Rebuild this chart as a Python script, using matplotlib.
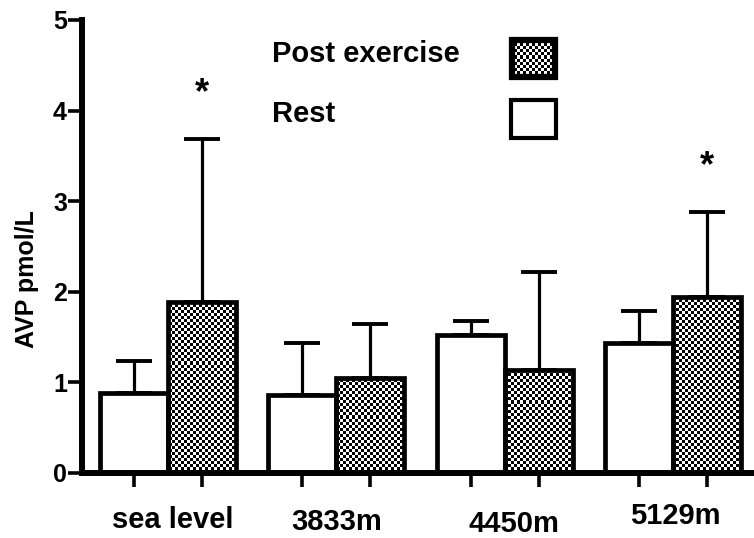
import numpy as np
import matplotlib
matplotlib.use("Agg")
import matplotlib.pyplot as plt
from matplotlib.patches import Rectangle

plt.rcParams['font.family'] = ['Liberation Sans', 'DejaVu Sans']
plt.rcParams['font.weight'] = 'bold'

# AVP (pmol/L), mean and upper error
sites = ['sea level', '3833m', '4450m', '5129m']
rest_mean = [0.88, 0.86, 1.52, 1.43]
rest_err = [0.36, 0.57, 0.16, 0.36]
post_mean = [1.89, 1.05, 1.14, 1.94]
post_err = [1.80, 0.59, 1.08, 0.94]
post_star = [True, False, False, True]
star_y = [4.19, None, None, 3.38]
yticks = [0, 1, 2, 3, 4, 5]

# label nudges in points (dx, dy below the axis), as in the original
label_off = [(3, -34), (0, -35), (7, -37), (2, -31)]

fig = plt.figure(figsize=(7.54, 5.38), dpi=100)
ax = fig.add_axes([0.109, 0.121, 0.891, 0.842])

x = np.arange(len(sites))
w = 0.404

# checker pattern used for the post exercise bars
cell = 3
checker = (np.indices((453 // cell, 672 // cell)).sum(axis=0) % 2).astype(float)

def checker_fill(patch):
    im = ax.imshow(checker, cmap='gray', vmin=0.05, vmax=1.0, interpolation='nearest',
                   extent=[0, 1, 0, 1], transform=ax.transAxes, aspect='auto', zorder=1)
    im.set_clip_path(patch)

rest_bars = ax.bar(x - w / 2, rest_mean, w, color='white', edgecolor='black', linewidth=3.4, zorder=2)
post_bars = ax.bar(x + w / 2, post_mean, w, color='none', edgecolor='black', linewidth=3.4, zorder=2)
for b in post_bars:
    checker_fill(b)

ax.errorbar(x - w / 2, rest_mean, yerr=[np.zeros(4), rest_err], fmt='none', ecolor='black',
            elinewidth=2.3, capsize=13, capthick=2.8, zorder=1.5)
ax.errorbar(x + w / 2, post_mean, yerr=[np.zeros(4), post_err], fmt='none', ecolor='black',
            elinewidth=2.3, capsize=13, capthick=2.8, zorder=1.5)

for i in range(len(sites)):
    if post_star[i]:
        ax.text(x[i] + w / 2, star_y[i], '*', ha='center', va='center', fontsize=26, fontweight='bold')

ax.set_xlim(-0.511, 3.482)
ax.set_ylim(0, 5)
ax.set_yticks(yticks)
ax.set_xticks(np.concatenate([x - w / 2, x + w / 2]))
ax.set_xticklabels([])

for i, s in enumerate(sites):
    ax.annotate(s, xy=(x[i], 0), xycoords=('data', 'axes fraction'),
                xytext=label_off[i], textcoords='offset points',
                ha='center', va='center', fontsize=21, fontweight='bold')

ax.spines['top'].set_visible(False)
ax.spines['right'].set_visible(False)
ax.spines['left'].set_linewidth(4.3)
ax.spines['bottom'].set_linewidth(4.3)
ax.tick_params(axis='y', length=10, width=2.6, pad=1, labelsize=18)
ax.tick_params(axis='x', length=10, width=2.6)

ax.set_ylabel('AVP pmol/L', fontsize=18, fontweight='bold')
ax.yaxis.set_label_coords(-0.064, 0.428)

# legend drawn by hand like the original
ax.text(0.283, 0.907, 'Post exercise', transform=ax.transAxes, fontsize=21,
        fontweight='bold', va='baseline')
ax.text(0.283, 0.775, 'Rest', transform=ax.transAxes, fontsize=21,
        fontweight='bold', va='baseline')
box1 = Rectangle((0.640, 0.874), 0.064, 0.082, transform=ax.transAxes,
                 facecolor='none', edgecolor='black', linewidth=4.5, zorder=3)
ax.add_patch(box1)
checker_fill(box1)
box2 = Rectangle((0.638, 0.740), 0.067, 0.084, transform=ax.transAxes,
                 facecolor='white', edgecolor='black', linewidth=3, zorder=3)
ax.add_patch(box2)

plt.savefig('out.png', dpi=100)
